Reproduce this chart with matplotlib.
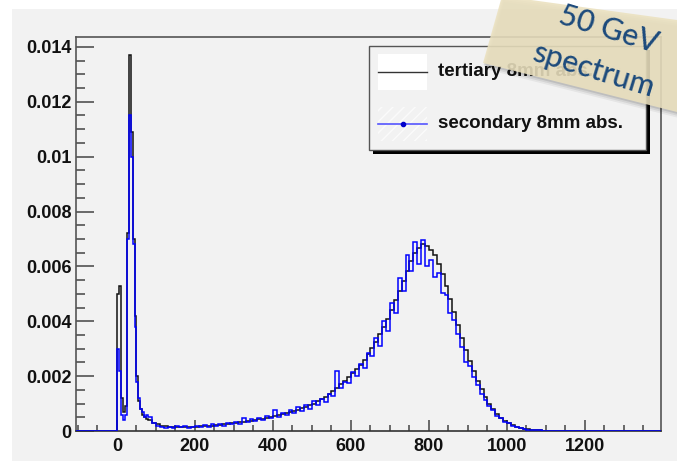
import matplotlib
matplotlib.use('Agg')
import matplotlib.pyplot as plt
import numpy as np
from matplotlib.patches import Rectangle, Polygon
from matplotlib.lines import Line2D
from matplotlib.ticker import MultipleLocator, FuncFormatter

# histogram contents, in units of 1e-4
# fine bins (5 wide) over the low-energy peaks, 0..80
peak_edges = [0, 5, 10, 15, 20, 25, 30, 35, 40, 45, 50, 55, 60, 65, 70, 75, 80]
tertiary_peak = [50, 53, 12, 7, 9, 72, 137, 109, 70, 42, 20, 11, 8, 6, 5, 4.5]
secondary_peak = [30, 22, 6, 4, 6, 70, 115, 100, 68, 38, 18, 12, 8, 7, 5, 6]

# coarse bins (10 wide) over the main spectrum, 80..1120
tertiary_main = [
    4.0, 3.0, 2.4, 2.0, 1.8, 1.6, 1.5, 1.5, 1.4, 1.5,
    1.6, 1.5, 1.6, 1.7, 1.8, 1.8, 2.0, 2.1, 2.2, 2.4,
    2.6, 2.8, 3.0, 3.2, 3.4, 3.6, 3.8, 4.0, 4.2, 4.5,
    4.8, 5.1, 5.4, 5.8, 6.1, 6.5, 6.9, 7.3, 7.8, 8.3,
    8.8, 9.3, 10.0, 10.8, 11.6, 12.5, 13.4, 14.5, 15.8, 17.0,
    18.3, 19.6, 21.0, 22.5, 24.2, 26.0, 28.0, 30.2, 32.6, 35.2,
    38.0, 41.0, 44.2, 47.6, 51.2, 54.8, 58.4, 61.8, 64.8, 66.8,
    68.0, 67.6, 66.0, 64.0, 61.0, 57.2, 52.8, 48.2, 43.4, 38.6,
    34.0, 29.6, 25.6, 21.8, 18.4, 15.2, 12.4, 10.0, 8.0, 6.3,
    4.9, 3.8, 2.9, 2.2, 1.6, 1.2, 0.9, 0.6, 0.4, 0.3,
    0.2, 0.1, 0.1, 0.0,
]
secondary_main = [
    5.0, 3.0, 2.0, 1.6, 1.2, 1.5, 1.0, 1.8, 1.3, 1.9,
    1.2, 1.6, 2.0, 1.4, 2.3, 1.5, 2.6, 1.8, 2.5, 2.0,
    3.0, 2.4, 3.4, 2.6, 4.6, 3.2, 4.4, 3.6, 4.8, 4.0,
    5.6, 4.6, 7.5, 5.2, 6.6, 5.8, 7.8, 6.4, 8.6, 7.2,
    9.6, 8.2, 10.8, 9.6, 11.8, 10.6, 13.6, 12.8, 22.0, 15.6,
    18.0, 17.4, 21.6, 20.2, 24.6, 23.0, 28.6, 27.2, 33.8, 31.0,
    40.2, 36.4, 46.8, 43.0, 55.6, 51.0, 64.0, 58.4, 68.8, 61.0,
    69.6, 60.0, 62.4, 56.0, 57.6, 50.2, 49.4, 43.0, 40.6, 35.2,
    30.6, 25.0, 23.8, 19.6, 16.6, 13.4, 11.4, 9.2, 7.6, 5.6,
    4.6, 3.4, 2.8, 2.0, 1.4, 1.1, 0.7, 0.5, 0.4, 0.2,
    0.2, 0.1, 0.1, 0.0,
]
main_edges = list(range(80, 1130, 10))

legend_labels = ['tertiary 8mm abs.', 'secondary 8mm abs.']
note_lines = ['50 GeV', 'spectrum']

W, H = 677, 461
fig = plt.figure(figsize=(W / 100, H / 100), dpi=100)
fig.patch.set_facecolor('white')


def fx(x):
    return x / W


def fy(y):
    return 1 - y / H


# ROOT canvas
fig.add_artist(Rectangle((fx(12), 0), 1 - fx(12), fy(9), transform=fig.transFigure,
                         facecolor='#f2f2f2', edgecolor='none', zorder=0))

ax = fig.add_axes([fx(76), fy(431), fx(661) - fx(76), fy(37) - fy(431)])
ax.set_facecolor('#f2f2f2')

edges = np.array([-105] + peak_edges + main_edges[1:] + [1395], dtype=float)
tert = np.array([0] + tertiary_peak + tertiary_main + [0]) * 1e-4
sec = np.array([0] + secondary_peak + secondary_main + [0]) * 1e-4

ax.stairs(tert, edges, baseline=None, color='#111111', lw=1.1, zorder=2)
ax.stairs(sec, edges, baseline=None, color='#0000ff', lw=1.1, zorder=3)

ax.set_xlim(-105, 1395)
ax.set_ylim(0, 0.01436)

ax.xaxis.set_major_locator(MultipleLocator(200))
ax.xaxis.set_minor_locator(MultipleLocator(50))
ax.yaxis.set_major_locator(MultipleLocator(0.002))
ax.yaxis.set_minor_locator(MultipleLocator(0.0005))
ax.yaxis.set_major_formatter(FuncFormatter(lambda v, p: '%g' % round(v, 6)))

ax.tick_params(axis='both', which='both', direction='in', colors='#444444',
               width=1.1, top=False, right=False)
ax.tick_params(axis='y', which='major', length=13, pad=3)
ax.tick_params(axis='y', which='minor', length=6.5)
ax.tick_params(axis='x', which='major', length=8, pad=5)
ax.tick_params(axis='x', which='minor', length=4.5)
for lab in ax.get_xticklabels() + ax.get_yticklabels():
    lab.set_fontfamily('Liberation Sans')
    lab.set_fontweight('bold')
    lab.set_fontsize(13)
    lab.set_color('#111111')
for s in ax.spines.values():
    s.set_color('#555555')
    s.set_linewidth(1.2)
ax.spines['bottom'].set_color('#333333')

# legend box with ROOT style shadow
fig.add_artist(Rectangle((fx(373), fy(154)), fx(650) - fx(373), fy(50) - fy(154),
                         transform=fig.transFigure, facecolor='black', edgecolor='none', zorder=5))
fig.add_artist(Rectangle((fx(369), fy(150)), fx(646) - fx(369), fy(46) - fy(150),
                         transform=fig.transFigure, facecolor='#f2f2f2', edgecolor='#555555',
                         lw=1.0, zorder=6))
fig.add_artist(Rectangle((fx(378), fy(90)), fx(427) - fx(378), fy(54) - fy(90),
                         transform=fig.transFigure, facecolor='white', edgecolor='none', zorder=7))
fig.add_artist(Rectangle((fx(378), fy(141)), fx(427) - fx(378), fy(107) - fy(141),
                         transform=fig.transFigure, facecolor='#f2f2f2', edgecolor='#fbfbfb',
                         hatch='///', lw=0, zorder=7))
fig.add_artist(Line2D([fx(378), fx(427)], [fy(72), fy(72)], transform=fig.transFigure,
                      color='#333333', lw=1.0, zorder=8))
fig.add_artist(Line2D([fx(378), fx(427)], [fy(124), fy(124)], transform=fig.transFigure,
                      color='#5555ff', lw=1.2, zorder=8))
fig.add_artist(Line2D([fx(403)], [fy(124)], transform=fig.transFigure, marker='o', ms=3,
                      color='#0000cc', lw=0, zorder=9))
for lab, y in zip(legend_labels, [72, 124]):
    fig.text(fx(438), fy(y), lab, ha='left', va='center', fontsize=13.5,
             fontfamily='Liberation Sans', fontweight='bold', color='#111111', zorder=9)

# sticky note in the corner
note = [(502, -4), (483, 63), (677, 112), (677, 20)]
for d, a in [(6, 0.05), (4, 0.07), (2, 0.1)]:
    shadow = [(x + d * 0.3, y + d) for x, y in note]
    fig.add_artist(Polygon([(fx(x), fy(y)) for x, y in shadow], closed=True,
                           transform=fig.transFigure, facecolor='#000000', alpha=a,
                           edgecolor='none', zorder=10))
fig.add_artist(Polygon([(fx(x), fy(y)) for x, y in note], closed=True,
                       transform=fig.transFigure, facecolor='#ebe1bf', alpha=0.88,
                       edgecolor='none', zorder=11))
for txt, (x, y) in zip(note_lines, [(609, 29), (593, 70)]):
    fig.text(fx(x), fy(y), txt, ha='center', va='center', rotation=-17,
             rotation_mode='anchor', fontsize=22, fontfamily='Lato',
             fontweight='medium', color='#1c4a7c', zorder=12)

fig.savefig('out.png', dpi=100)
